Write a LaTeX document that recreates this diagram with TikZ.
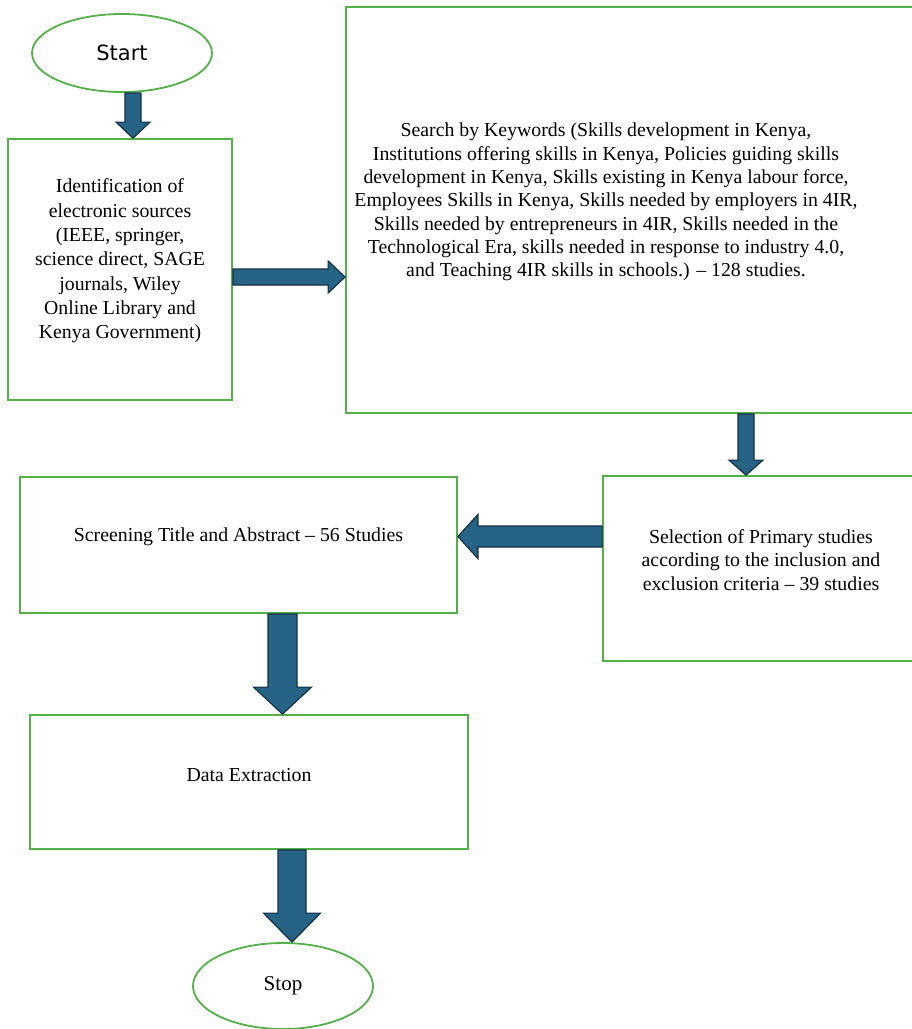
\documentclass[tikz,border=0pt]{standalone}
\usepackage{fontspec}
\setmainfont{Liberation Serif}
\newfontfamily\startfont{DejaVu Sans}
\usepackage{xcolor}
\usetikzlibrary{calc,shapes.geometric}

\definecolor{boxgreen}{RGB}{84,176,72}
\definecolor{arrowfill}{RGB}{38,99,133}
\definecolor{arrowline}{RGB}{20,48,70}

\tikzset{
box/.style={draw=boxgreen,line width=1.8pt,rectangle,inner sep=0pt},
oval/.style={draw=boxgreen,line width=1.8pt,ellipse,inner sep=0pt},
txt/.style={align=center,inner sep=0pt,font=\fontsize{19.8}{23.3}\selectfont},
blk/.style={fill=arrowfill,draw=arrowline,line width=1.2pt,line join=miter}
}

\newcommand{\blockarrow}[5]{%
\coordinate (ba-a) at (#1);
\coordinate (ba-b) at (#2);
\coordinate (ba-h) at ($(ba-b)!#5!(ba-a)$);
\draw[blk] ($(ba-a)!#3!90:(ba-b)$)--($(ba-h)!#3!90:(ba-b)$)--($(ba-h)!#4!90:(ba-b)$)--(ba-b)
--($(ba-h)!#4!-90:(ba-b)$)--($(ba-h)!#3!-90:(ba-b)$)--($(ba-a)!#3!-90:(ba-b)$)--cycle;}

\begin{document}
\begin{tikzpicture}[x=1pt,y=-1pt]
\useasboundingbox (0,0) rectangle (912,1029);
\fill[white] (0,0) rectangle (912,1029);
\clip (0,0) rectangle (912,1029);

\node[oval,minimum width=180pt,minimum height=78pt,font=\startfont\fontsize{21}{25}\selectfont] (start) at (122,53) {Start};
\node[box,minimum width=224pt,minimum height=261pt] (ident) at (120,269.5) {};
\node[box,minimum width=584pt,minimum height=406pt] (search) at (638,210) {};
\node[box,minimum width=327pt,minimum height=185pt] (select) at (766.5,568.5) {};
\node[box,minimum width=437pt,minimum height=136pt] (screen) at (238.5,545) {};
\node[box,minimum width=438pt,minimum height=134pt] (extract) at (249,782) {};
\node[oval,minimum width=180pt,minimum height=86pt,font=\fontsize{21}{25}\selectfont] (stop) at (283,986) {Stop};

\node[txt,font=\fontsize{19.8}{24.3}\selectfont] (identtxt) at ($(ident.center)+(0,-8.5)$)
{Identification of\\electronic sources\\(IEEE, springer,\\science direct, SAGE\\journals, Wiley\\Online Library and\\Kenya Government)};
\node[txt] (searchtxt) at (606,202)
{Search by Keywords (Skills development in Kenya,\\Institutions offering skills in Kenya, Policies guiding skills\\development in Kenya, Skills existing in Kenya labour force,\\Employees Skills in Kenya, Skills needed by employers in 4IR,\\Skills needed by entrepreneurs in 4IR, Skills needed in the\\Technological Era, skills needed in response to industry 4.0,\\and Teaching 4IR skills in schools.) -- 128 studies.};
\node[txt] (selecttxt) at (761,560)
{Selection of Primary studies\\according to the inclusion and\\exclusion criteria -- 39 studies};
\node[txt] (screentxt) at ($(screen.center)+(0,-8)$) {Screening Title and Abstract -- 56 Studies};
\node[txt] (extracttxt) at ($(extract.center)+(0,-7)$) {Data Extraction};

\blockarrow{$(start.south)+(11,0)$}{$(ident.north)+(13,0)$}{8pt}{17pt}{16pt}
\blockarrow{$(ident.east)+(0,7.5)$}{$(search.west)+(0,67)$}{8pt}{16pt}{17pt}
\blockarrow{$(search.south)+(108,0)$}{$(select.north)+(-20.5,0)$}{8pt}{17pt}{15pt}
\blockarrow{$(select.west)+(0,-32)$}{$(screen.east)+(0,-8.5)$}{10.5pt}{22pt}{20pt}
\blockarrow{$(screen.south)+(44,0)$}{$(extract.north)+(33.5,0)$}{14.5pt}{29pt}{27pt}
\blockarrow{$(extract.south)+(43,0)$}{$(stop.north)+(9,0)$}{14pt}{28.5pt}{29pt}
\end{tikzpicture}
\end{document}
